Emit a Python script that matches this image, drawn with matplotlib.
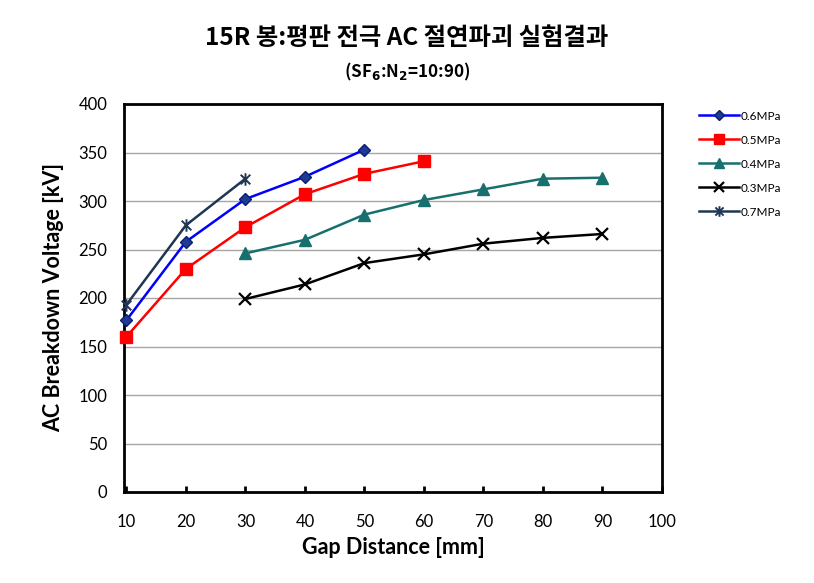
import matplotlib
matplotlib.use("Agg")
import matplotlib.pyplot as plt
from matplotlib.path import Path

# Data
x_06 = [10, 20, 30, 40, 50]
y_06 = [177, 258, 302, 325, 353]
x_05 = [10, 20, 30, 40, 50, 60]
y_05 = [160, 230, 273, 307, 328, 341]
x_04 = [30, 40, 50, 60, 70, 80, 90]
y_04 = [246, 260, 286, 301, 312, 323, 324]
x_03 = [30, 40, 50, 60, 70, 80, 90]
y_03 = [199, 214, 236, 245, 256, 262, 266]
x_07 = [10, 20, 30]
y_07 = [193, 275, 323]
labels = ["0.6MPa", "0.5MPa", "0.4MPa", "0.3MPa", "0.7MPa"]
xticks = [10, 20, 30, 40, 50, 60, 70, 80, 90, 100]
yticks = [0, 50, 100, 150, 200, 250, 300, 350, 400]

plt.rcParams['font.family'] = ['Lato', 'Noto Sans CJK KR', 'DejaVu Sans']

fig = plt.figure(figsize=(8.14, 5.83), dpi=100)
ax = fig.add_axes([124/814, 1-492/583, (662-124)/814, (492-104)/583])

star = Path([(-1, -1), (1, 1), (-1, 1), (1, -1), (0, -1.3), (0, 1.3)],
            [Path.MOVETO, Path.LINETO, Path.MOVETO, Path.LINETO, Path.MOVETO, Path.LINETO])

ax.plot(x_06, y_06, color='#0000FF', lw=1.8, marker='D', ms=6.5,
        mfc='#1F3A93', mec='#0A1F6E', mew=1, label=labels[0], zorder=4, clip_on=False)
ax.plot(x_05, y_05, color='#FF0000', lw=1.8, marker='s', ms=8,
        mfc='#FF0000', mec='#FF0000', label=labels[1], zorder=3, clip_on=False)
ax.plot(x_04, y_04, color='#17706E', lw=1.8, marker='^', ms=8.5,
        mfc='#17706E', mec='#17706E', label=labels[2], zorder=3)
ax.plot(x_03, y_03, color='#000000', lw=1.8, marker='x', ms=9, mew=1.6,
        label=labels[3], zorder=3)
ax.plot(x_07, y_07, color='#1F3654', lw=1.8, marker=star, ms=9, mew=1.4,
        mec='#1F3654', label=labels[4], zorder=3, clip_on=False)

ax.set_xlim(9.6, 100)
ax.set_ylim(0, 400)
ax.set_xticks(xticks)
ax.set_yticks(yticks)
ax.tick_params(axis='x', direction='in', length=4, width=2, labelsize=12, pad=16)
ax.tick_params(axis='y', length=0, labelsize=12, pad=12)
ax.grid(axis='y', color='#A6A6A6', lw=1)
ax.set_axisbelow(True)
for s in ax.spines.values():
    s.set_linewidth(2)
    s.set_color('black')

ax.set_xlabel('Gap Distance [mm]', fontsize=15.5, fontweight='bold', labelpad=5)
ax.set_ylabel('AC Breakdown Voltage [kV]', fontsize=15.5, fontweight='bold', labelpad=10)

fig.text(0.5, 1-38/583, '15R 봉:평판 전극 AC 절연파괴 실험결과', ha='center', va='center',
         fontsize=17.5, fontweight='bold', family=['Noto Sans CJK KR', 'DejaVu Sans'])
fig.text(0.5, 1-72/583, r'(SF$_\mathbf{6}$:N$_\mathbf{2}$=10:90)', ha='center', va='center',
         fontsize=12.3, fontweight='bold', family=['Noto Sans CJK KR', 'DejaVu Sans'])

fig.legend(loc='upper left', bbox_to_anchor=(688/814, 1-100/583), frameon=False,
           fontsize=8.5, handlelength=3.4, labelspacing=1.1, handletextpad=0.15,
           markerscale=0.85)

fig.savefig('out.png', dpi=100)
